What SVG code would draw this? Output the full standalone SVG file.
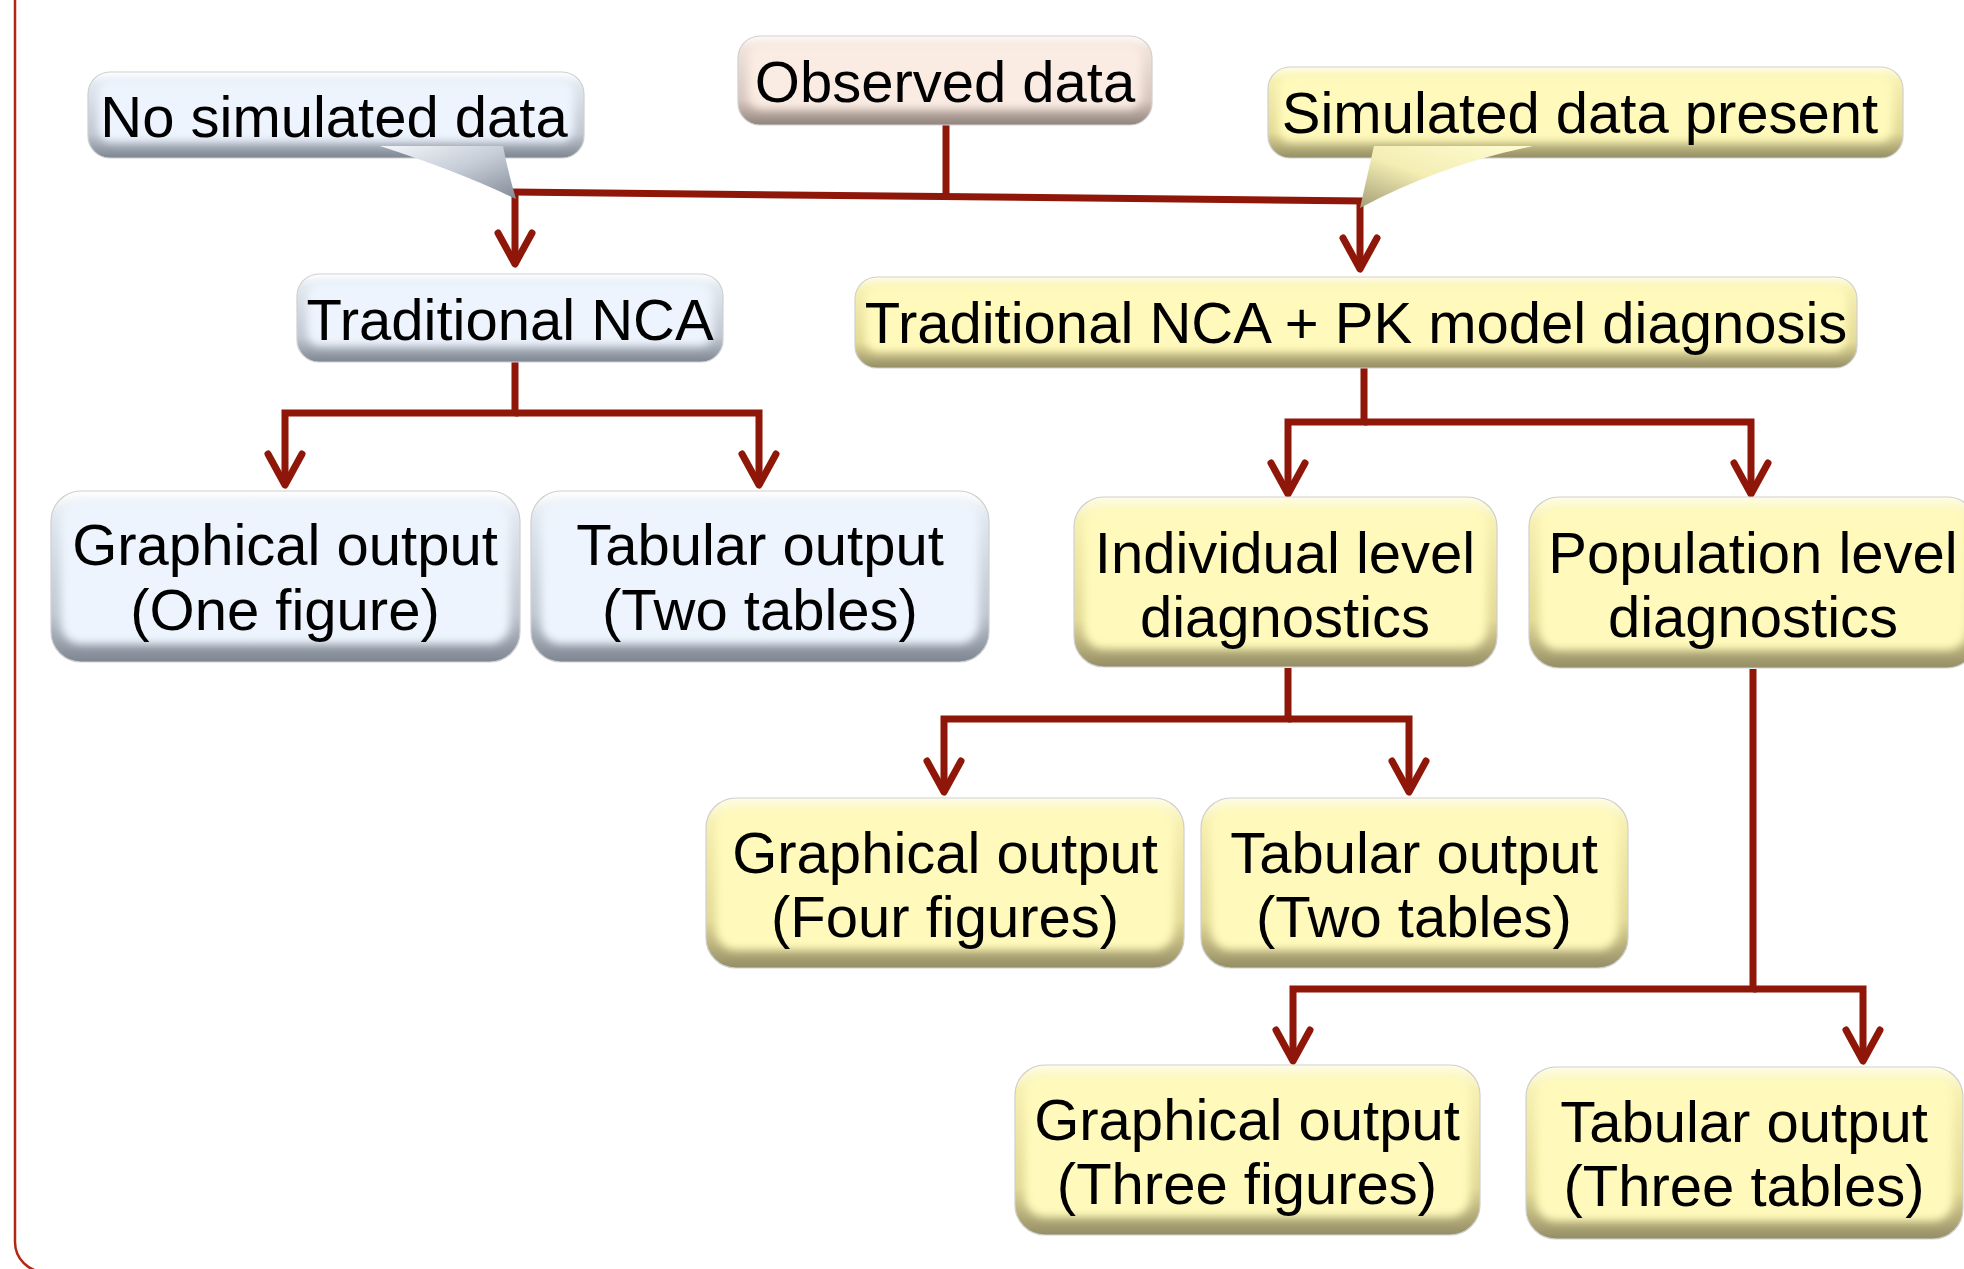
<svg xmlns="http://www.w3.org/2000/svg" width="1964" height="1269" viewBox="0 0 1964 1269">
<style>
.t{font-family:"Liberation Sans",Arial,sans-serif;font-size:58px;fill:#000;text-anchor:middle}
.c{fill:none;stroke:#8f1709;stroke-width:7;stroke-linejoin:miter}
.ca{fill:none;stroke:#8f1709;stroke-width:7;stroke-linejoin:miter;marker-end:url(#ah)}
.oy{fill:url(#gy);stroke:#cfcfcf;stroke-width:1.2}
.ob{fill:url(#gb);stroke:#cfcfcf;stroke-width:1.2}
.op{fill:url(#gp);stroke:#cfcfcf;stroke-width:1.2}
.fy{fill:#fffabb;filter:url(#bl)}
.fb{fill:#edf4fd;filter:url(#bl)}
.fp{fill:#fbece3;filter:url(#bl)}
</style>
<defs>
<linearGradient id="gy" x1="0" y1="0" x2="0" y2="1">
<stop offset="0" stop-color="#fffde6"/><stop offset="0.15" stop-color="#f6efb0"/><stop offset="0.72" stop-color="#e2d995"/><stop offset="1" stop-color="#958e66"/>
</linearGradient>
<linearGradient id="gb" x1="0" y1="0" x2="0" y2="1">
<stop offset="0" stop-color="#ffffff"/><stop offset="0.15" stop-color="#e0e7ef"/><stop offset="0.72" stop-color="#c0c7d1"/><stop offset="1" stop-color="#7e8692"/>
</linearGradient>
<linearGradient id="gp" x1="0" y1="0" x2="0" y2="1">
<stop offset="0" stop-color="#fff9f5"/><stop offset="0.15" stop-color="#f0e2d9"/><stop offset="0.72" stop-color="#d6c6bd"/><stop offset="1" stop-color="#92847d"/>
</linearGradient>
<linearGradient id="tb" x1="0" y1="0" x2="1" y2="1">
<stop offset="0" stop-color="#f4f7fb"/><stop offset="0.5" stop-color="#c6cdd7"/><stop offset="1" stop-color="#838b97"/>
</linearGradient>
<linearGradient id="ty" x1="1" y1="0" x2="0" y2="1">
<stop offset="0" stop-color="#fffcd2"/><stop offset="0.55" stop-color="#f4eeb4"/><stop offset="1" stop-color="#a59e76"/>
</linearGradient>
<filter id="bl" x="-10%" y="-20%" width="120%" height="140%"><feGaussianBlur stdDeviation="4"/></filter>
<marker id="ah" markerUnits="userSpaceOnUse" viewBox="-40 -25 50 50" refX="0" refY="0" markerWidth="50" markerHeight="50" orient="auto">
<path d="M -31 -17 L 0 0 L -31 17" fill="none" stroke="#8f1709" stroke-width="7" stroke-linecap="round" stroke-linejoin="round"/>
</marker>
</defs>
<rect width="1964" height="1269" fill="#ffffff"/>
<rect x="15" y="-60" width="2100" height="1332" rx="30" fill="none" stroke="#b52612" stroke-width="2.5"/>

<g id="connectors">
<line class="c" x1="512" y1="192" x2="1364" y2="201"/>
<line class="c" x1="946" y1="125" x2="946" y2="197"/>
<path class="ca" d="M 515 192 V 264"/>
<path class="ca" d="M 1360 201 V 269"/>
<path class="ca" d="M 515 362 V 413 H 285 V 485"/>
<path class="ca" d="M 515 413 H 759 V 485"/>
<path class="ca" d="M 1364 368 V 422 H 1288 V 494"/>
<path class="ca" d="M 1364 422 H 1751 V 494"/>
<path class="ca" d="M 1288 668 V 719 H 944 V 792"/>
<path class="ca" d="M 1288 719 H 1409 V 792"/>
<path class="ca" d="M 1753 669 V 989 H 1293 V 1061"/>
<path class="ca" d="M 1753 989 H 1863 V 1061"/>
</g>

<g id="node-no-simulated">
<rect class="ob" x="88" y="72" width="496" height="86" rx="22"/>
<rect class="fb" x="98" y="80" width="476" height="62" rx="14"/>
<path d="M 380 146 Q 460 172 516 199 Q 508 172 503 146 Z" fill="url(#tb)"/>
<text class="t" x="334" y="137">No simulated data</text>
</g>

<g id="node-observed">
<rect class="op" x="738" y="36" width="414" height="89" rx="22"/>
<rect class="fp" x="748" y="44" width="394" height="65" rx="14"/>
<text class="t" x="945" y="102">Observed data</text>
</g>

<g id="node-simulated-present">
<rect class="oy" x="1268" y="67" width="635" height="91" rx="22"/>
<rect class="fy" x="1278" y="75" width="615" height="67" rx="14"/>
<path d="M 1374 146 L 1360 208 Q 1440 165 1533 146 Z" fill="url(#ty)"/>
<text class="t" x="1580" y="133">Simulated data present</text>
</g>

<g id="node-trad-nca">
<rect class="ob" x="297" y="274" width="426" height="88" rx="22"/>
<rect class="fb" x="307" y="282" width="406" height="64" rx="14"/>
<text class="t" x="510" y="340">Traditional NCA</text>
</g>

<g id="node-trad-nca-pk">
<rect class="oy" x="855" y="277" width="1002" height="91" rx="22"/>
<rect class="fy" x="865" y="285" width="982" height="67" rx="14"/>
<text class="t" x="1356" y="343">Traditional NCA + PK model diagnosis</text>
</g>

<g id="node-graph-one">
<rect class="ob" x="51" y="491" width="469" height="171" rx="30"/>
<rect class="fb" x="61" y="501" width="449" height="143" rx="20"/>
<text class="t" x="285" y="565">Graphical output</text>
<text class="t" x="285" y="630">(One figure)</text>
</g>

<g id="node-tab-two-a">
<rect class="ob" x="531" y="491" width="458" height="171" rx="30"/>
<rect class="fb" x="541" y="501" width="438" height="143" rx="20"/>
<text class="t" x="760" y="565">Tabular output</text>
<text class="t" x="760" y="630">(Two tables)</text>
</g>

<g id="node-individual">
<rect class="oy" x="1074" y="497" width="423" height="170" rx="30"/>
<rect class="fy" x="1084" y="507" width="403" height="142" rx="20"/>
<text class="t" x="1285" y="573">Individual level</text>
<text class="t" x="1285" y="637">diagnostics</text>
</g>

<g id="node-population">
<rect class="oy" x="1529" y="497" width="448" height="171" rx="30"/>
<rect class="fy" x="1539" y="507" width="428" height="143" rx="20"/>
<text class="t" x="1753" y="573">Population level</text>
<text class="t" x="1753" y="637">diagnostics</text>
</g>

<g id="node-graph-four">
<rect class="oy" x="706" y="798" width="478" height="170" rx="30"/>
<rect class="fy" x="716" y="808" width="458" height="142" rx="20"/>
<text class="t" x="945" y="873">Graphical output</text>
<text class="t" x="945" y="937">(Four figures)</text>
</g>

<g id="node-tab-two-b">
<rect class="oy" x="1201" y="798" width="427" height="170" rx="30"/>
<rect class="fy" x="1211" y="808" width="407" height="142" rx="20"/>
<text class="t" x="1414" y="873">Tabular output</text>
<text class="t" x="1414" y="937">(Two tables)</text>
</g>

<g id="node-graph-three">
<rect class="oy" x="1015" y="1065" width="465" height="170" rx="30"/>
<rect class="fy" x="1025" y="1075" width="445" height="142" rx="20"/>
<text class="t" x="1247" y="1140">Graphical output</text>
<text class="t" x="1247" y="1204">(Three figures)</text>
</g>

<g id="node-tab-three">
<rect class="oy" x="1526" y="1067" width="437" height="172" rx="30"/>
<rect class="fy" x="1536" y="1077" width="417" height="144" rx="20"/>
<text class="t" x="1744" y="1142">Tabular output</text>
<text class="t" x="1744" y="1206">(Three tables)</text>
</g>
</svg>
